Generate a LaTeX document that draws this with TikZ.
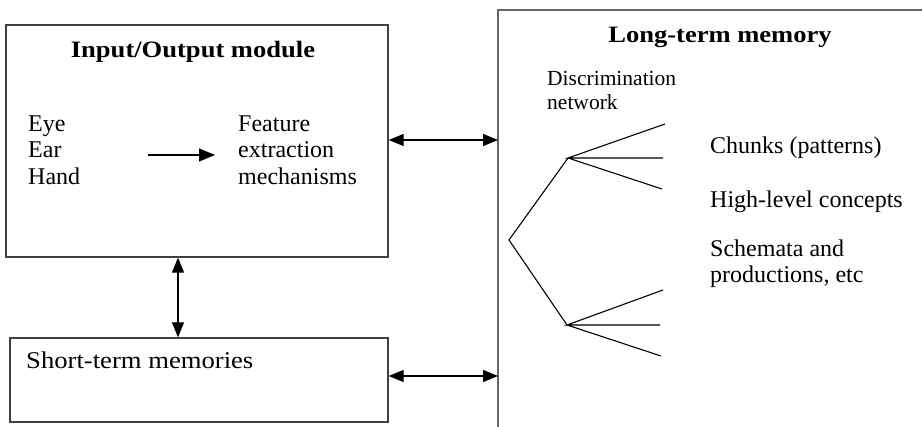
\documentclass[tikz,border=0pt]{standalone}
\usepackage{fontspec}
\setmainfont{Liberation Serif}
\newfontfamily\headfont[FakeStretch=1.13]{Liberation Serif}
\newfontfamily\widefont[FakeStretch=1.11]{Liberation Serif}
\usetikzlibrary{arrows.meta}
\tikzset{
  box/.style={draw=black!75, line width=1.3pt, rectangle, inner sep=0pt},
  wall/.style={draw=black!60, line width=1.6pt},
  label/.style={inner sep=0pt, anchor=base west, font=\fontsize{24}{28}\selectfont},
  small/.style={label, font=\fontsize{21.5}{26}\selectfont},
  wide/.style={label, font=\widefont\fontsize{24}{28}\selectfont},
  title/.style={inner sep=0pt, anchor=base, font=\headfont\fontsize{23.5}{28}\selectfont\bfseries},
  link/.style={line width=1.1pt, {Triangle[length=15pt,width=12pt]}-{Triangle[length=15pt,width=12pt]}},
  onelink/.style={line width=1.1pt, -{Triangle[length=16pt,width=13pt]}},
  branch/.style={line width=1.1pt}
}
\begin{document}
\begin{tikzpicture}[x=1pt, y=-1pt]
\useasboundingbox (0,0) rectangle (922,427);

% Input/Output module
\node[box, minimum width=382pt, minimum height=232pt] (io) at (197,141) {};
\node[title] (iotitle) at (193,58) {Input/Output module};
\node[label] (eye)  at (28,132) {Eye};
\node[label] (ear)  at (28,158) {Ear};
\node[label] (hand) at (28,185) {Hand};
\node[label] (feat) at (238,132) {Feature};
\node[label] (extr) at (238,158) {extraction};
\node[label] (mech) at (238,185) {mechanisms};
\coordinate (senseout) at (148,155);
\coordinate (featin) at (215,155);
\draw[onelink] (senseout) -- (featin);

% Short-term memories
\node[box, minimum width=378pt, minimum height=84pt] (stm) at (199,380) {};
\node[wide] (stmtext) at (26,369) {Short-term memories};

% Long-term memory (open to the right and below)
\coordinate (ltmtop) at (498,10);
\coordinate (ltmbot) at (498,427);
\coordinate (ltmright) at (922,10);
\draw[wall] (ltmbot) -- (ltmtop) -- (ltmright);
\node[title] (ltmtitle) at (720,43) {Long-term memory};
\node[small] (disc) at (547,86) {Discrimination};
\node[small] (net)  at (547,110) {network};
\node[label] (chunks) at (710,154) {Chunks (patterns)};
\node[label] (high)   at (710,208) {High-level concepts};
\node[label] (schem)  at (710,257) {Schemata and};
\node[label] (prod)   at (710,283) {productions, etc};

% discrimination tree
\coordinate (root) at (509,240);
\coordinate (up) at (568,158);
\coordinate (dn) at (567,325);
\coordinate (u1) at (665,124);
\coordinate (u2) at (663,158);
\coordinate (u3) at (662,189);
\coordinate (d1) at (663,290);
\coordinate (d2) at (660,325);
\coordinate (d3) at (661,356);
\draw[branch] (up) -- (root) -- (dn);
\draw[branch] (u1) -- (up) -- (u2) (up) -- (u3);
\draw[branch] (d1) -- (dn) -- (d2) (dn) -- (d3);

% connectors between the modules
\coordinate (vx) at (178,300);
\draw[link] (vx |- io.south) -- (vx |- stm.north);
\coordinate (topy) at (440,140);
\draw[link] (topy -| io.east) -- (topy -| ltmtop);
\coordinate (boty) at (440,376);
\draw[link] (boty -| stm.east) -- (boty -| ltmtop);
\end{tikzpicture}
\end{document}
